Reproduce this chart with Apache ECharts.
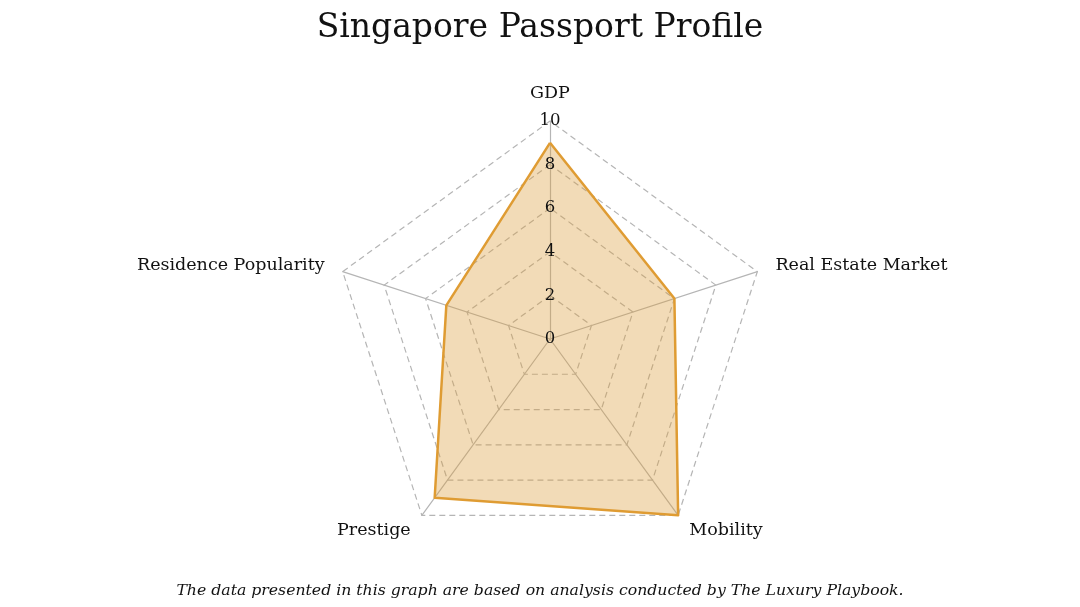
<!DOCTYPE html>
<html><head><meta charset="utf-8">
<script src="https://cdn.jsdelivr.net/npm/echarts@6/dist/echarts.min.js"></script>
<style>html,body{margin:0;padding:0;background:#fff}#c{width:1080px;height:607px}</style>
</head><body><div id="c"></div>
<script>
// categories in clockwise order starting from the top
const indicators = ['GDP', 'Real Estate Market', 'Mobility', 'Prestige', 'Residence Popularity'];
const values = [9, 6, 10, 9, 5];
const maxValue = 10;
const tickInterval = 2;
const seriesName = 'Singapore';
const titleText = 'Singapore Passport Profile';
const footnote = 'The data presented in this graph are based on analysis conducted by The Luxury Playbook.';
const FONT = 'DejaVu Serif';

// ECharts radar goes counter-clockwise; reorder so the layout reads clockwise
const order = [0].concat(indicators.map((_, i) => i).slice(1).reverse());
const ind = order.map(i => ({name: indicators[i], max: maxValue, min: 0}));
const vals = order.map(i => values[i]);

const CENTER = [550, 339], R = 218;
const chart = echarts.init(document.getElementById('c'));
chart.setOption({
  backgroundColor: '#fff',
  title: [
    {text: titleText, left: 'center', top: 7, textStyle: {fontFamily: FONT, fontWeight: 'normal', fontSize: 33, color: '#111'}},
    {text: footnote, left: 'center', top: 578, textStyle: {fontFamily: FONT, fontStyle: 'italic', fontWeight: 'normal', fontSize: 15.7, color: '#111'}}
  ],
  radar: {
    center: CENTER,
    radius: R,
    startAngle: 90,
    splitNumber: 5,
    shape: 'polygon',
    indicator: ind,
    axisName: {color: '#111', fontFamily: FONT, fontSize: 17.5},
    nameGap: 19,
    splitArea: {show: false},
    splitLine: {lineStyle: {color: '#b5b5b5', type: [6, 4], width: 1.2}},
    axisLine: {lineStyle: {color: '#b5b5b5', width: 1.2}},
    axisTick: {show: false},
    axisLabel: {show: false}
  },
  polar: {center: CENTER, radius: R},
  angleAxis: {startAngle: 90, show: false, min: 0, max: 360},
  radiusAxis: {
    min: 0, max: maxValue, interval: tickInterval,
    axisLine: {show: false}, axisTick: {show: false}, splitLine: {show: false},
    axisLabel: {show: true, color: '#111', fontFamily: FONT, fontSize: 16.5, margin: 0, align: 'center', verticalAlign: 'middle'},
    z: 10
  },
  series: [{
    type: 'radar',
    name: seriesName,
    symbol: 'none',
    data: [{value: vals, name: seriesName}],
    lineStyle: {color: '#E09C32', width: 2.5},
    areaStyle: {color: 'rgba(218,156,58,0.52)'}
  }]
});
</script></body></html>
